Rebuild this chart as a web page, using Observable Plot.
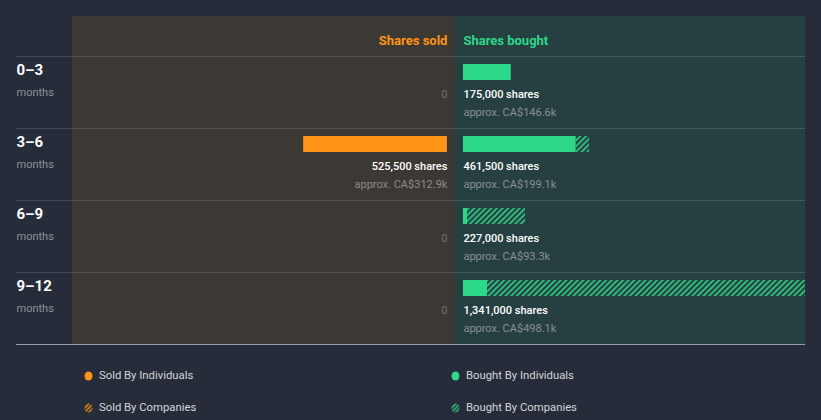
<!DOCTYPE html>
<html>
<head>
<meta charset="utf-8">
<script src="https://cdn.jsdelivr.net/npm/d3@7"></script>
<script src="https://cdn.jsdelivr.net/npm/@observablehq/plot@0.6"></script>
<style>
  html, body { margin: 0; padding: 0; background: #262C3A; }
  body { width: 821px; height: 420px; overflow: hidden; font-family: Roboto, "Noto Sans", sans-serif; }
  #legend { position: relative; height: 70px; }
  .item { position: absolute; display: flex; align-items: center; color: #d4d6da; font-size: 11.3px; }
  .item svg { margin-right: 6px; }
</style>
</head>
<body>
<div id="chart"></div>
<div id="legend"></div>
<script>
// ---- data ----
const periods = ["0–3", "3–6", "6–9", "9–12"];
const soldIndividuals = [0, 525500, 0, 0];
const soldCompanies = [0, 0, 0, 0];
const soldValue = ["", "CA$312.9k", "", ""];
const boughtIndividuals = [175000, 412000, 15000, 88000];
const boughtCompanies = [0, 49500, 212000, 1253000];
const boughtValue = ["CA$146.6k", "CA$199.1k", "CA$93.3k", "CA$498.1k"];
const headers = ["Shares sold", "Shares bought"];
const legendLabels = ["Sold By Individuals", "Bought By Individuals", "Sold By Companies", "Bought By Companies"];

const xDomain = [-1400000, 1280000];

const orange = "#FF9417";
const green = "#2ED889";
const soldBg = "#3C3834";
const boughtBg = "#263F41";

const rows = periods.map((p, i) => ({
  period: p,
  si: soldIndividuals[i], sc: soldCompanies[i], sv: soldValue[i],
  bi: boughtIndividuals[i], bc: boughtCompanies[i], bv: boughtValue[i],
  st: soldIndividuals[i] + soldCompanies[i],
  bt: boughtIndividuals[i] + boughtCompanies[i]
}));
const fmt = d3.format(",");

const plot = Plot.plot({
  width: 821,
  height: 350,
  marginLeft: 72,
  marginRight: 16,
  marginTop: 56,
  marginBottom: 6,
  style: { background: "transparent", fontFamily: "Roboto, sans-serif", overflow: "visible" },
  x: { domain: xDomain, axis: null },
  y: { domain: periods, axis: null, padding: 0 },
  marks: [
    // panels
    Plot.rect([{ a: xDomain[0], b: 0 }], { x1: "a", x2: "b", fill: soldBg, insetTop: -40 }),
    Plot.rect([{ a: 0, b: xDomain[1] }], { x1: "a", x2: "b", fill: boughtBg, insetTop: -40 }),
    // separators
    Plot.ruleY(periods, { y: d => d, dy: -36, stroke: "#ffffff", strokeOpacity: 0.14, insetLeft: -56 }),
    Plot.ruleY([periods[periods.length - 1]], { y: d => d, dy: 36, stroke: "#b5bcc4", strokeOpacity: 0.8, insetLeft: -56 }),
    // headers
    Plot.text([headers[0]], { x: 0, text: d => d, frameAnchor: "top", dy: -21, dx: -8, textAnchor: "end", fill: orange, fontWeight: 700, fontSize: 13 }),
    Plot.text([headers[1]], { x: 0, text: d => d, frameAnchor: "top", dy: -21, dx: 8, textAnchor: "start", fill: green, fontWeight: 700, fontSize: 13 }),
    // row labels
    Plot.text(rows, { y: "period", text: "period", frameAnchor: "left", dx: -56, dy: -22, textAnchor: "start", fill: "#ffffff", fontWeight: 700, fontSize: 15 }),
    Plot.text(rows, { y: "period", text: () => "months", frameAnchor: "left", dx: -56, dy: 0, textAnchor: "start", fill: "#8d929b", fontSize: 11 }),
    // sold bars
    Plot.barX(rows.filter(d => d.si > 0), { x1: d => -d.si, x2: 0, y: "period", dx: -8, fill: orange, insetTop: 8, insetBottom: 48 }),
    Plot.barX(rows.filter(d => d.sc > 0), { x1: d => -(d.si + d.sc), x2: d => -d.si, y: "period", dx: -8, fill: "url(#hatchO)", insetTop: 8, insetBottom: 48 }),
    // bought bars
    Plot.barX(rows.filter(d => d.bi > 0), { x1: 0, x2: "bi", y: "period", dx: 8, fill: green, insetTop: 8, insetBottom: 48, clip: true }),
    Plot.barX(rows.filter(d => d.bc > 0), { x1: "bi", x2: d => d.bi + d.bc, y: "period", dx: 8, fill: "url(#hatchG)", insetTop: 8, insetBottom: 48, clip: true }),
    // sold labels
    Plot.text(rows.filter(d => d.st === 0), { x: 0, y: "period", text: () => "0", dx: -8, dy: 2, textAnchor: "end", fill: "#77736e", fontSize: 11 }),
    Plot.text(rows.filter(d => d.st > 0), { x: 0, y: "period", text: d => fmt(d.st) + " shares", dx: -8, dy: 2, textAnchor: "end", fill: "#ffffff", fontWeight: 500, fontSize: 11 }),
    Plot.text(rows.filter(d => d.st > 0), { x: 0, y: "period", text: d => "approx. " + d.sv, dx: -8, dy: 20, textAnchor: "end", fill: "#8e8b88", fontSize: 11 }),
    // bought labels
    Plot.text(rows.filter(d => d.bt > 0), { x: 0, y: "period", text: d => fmt(d.bt) + " shares", dx: 8, dy: 2, textAnchor: "start", fill: "#ffffff", fontWeight: 500, fontSize: 11 }),
    Plot.text(rows.filter(d => d.bt > 0), { x: 0, y: "period", text: d => "approx. " + d.bv, dx: 8, dy: 20, textAnchor: "start", fill: "#86918f", fontSize: 11 })
  ]
});

// hatch patterns
const svg = d3.select(plot);
const defs = svg.insert("defs", ":first-child");
function hatch(id, color) {
  const p = defs.append("pattern").attr("id", id).attr("patternUnits", "userSpaceOnUse")
    .attr("width", 4).attr("height", 4).attr("patternTransform", "rotate(45)");
  p.append("line").attr("x1", 1).attr("y1", 0).attr("x2", 1).attr("y2", 4)
    .attr("stroke", color).attr("stroke-width", 1.6);
}
hatch("hatchO", orange);
hatch("hatchG", green);
document.getElementById("chart").appendChild(plot);

// legend
const legend = document.getElementById("legend");
const legendItems = [
  { label: legendLabels[0], fill: orange, left: 84, top: 19 },
  { label: legendLabels[1], fill: green, left: 451, top: 19 },
  { label: legendLabels[2], fill: "url(#lhO)", left: 84, top: 51 },
  { label: legendLabels[3], fill: "url(#lhG)", left: 451, top: 51 }
];
const lsvg = `<svg width="0" height="0" style="position:absolute"><defs>
<pattern id="lhO" patternUnits="userSpaceOnUse" width="3" height="3" patternTransform="rotate(45)"><line x1="1" y1="0" x2="1" y2="3" stroke="${orange}" stroke-width="1.4"/></pattern>
<pattern id="lhG" patternUnits="userSpaceOnUse" width="3" height="3" patternTransform="rotate(45)"><line x1="1" y1="0" x2="1" y2="3" stroke="${green}" stroke-width="1.4"/></pattern>
</defs></svg>`;
legend.innerHTML = lsvg + legendItems.map(it =>
  `<div class="item" style="left:${it.left}px;top:${it.top}px"><svg width="9" height="10"><ellipse cx="4.5" cy="5" rx="4" ry="4.5" fill="${it.fill}"/></svg><span>${it.label}</span></div>`
).join("");
</script>
</body>
</html>
